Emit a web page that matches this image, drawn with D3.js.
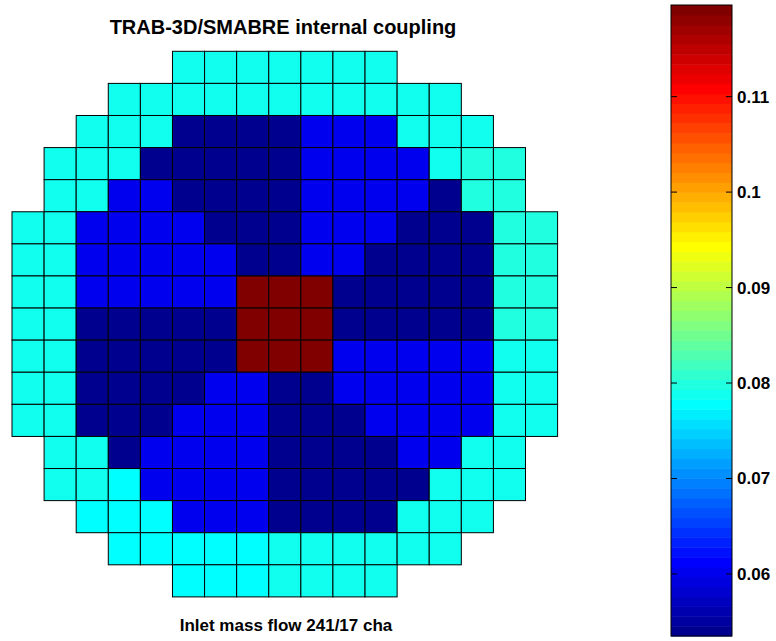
<!DOCTYPE html>
<html>
<head>
<meta charset="utf-8">
<script src="https://cdn.jsdelivr.net/npm/d3@7"></script>
<style>
  html, body { margin: 0; padding: 0; background: #fff; }
  svg { display: block; }
  text { font-family: "Liberation Sans", Arial, Helvetica, sans-serif; fill: #000; }
</style>
</head>
<body>
<svg id="chart" width="776" height="641"></svg>
<script>
// ---- data ----
const title = "TRAB-3D/SMABRE internal coupling";
const xLabel = "Inlet mass flow 241/17 cha";
const colorLimits = [0.0535, 0.1196];
const colorbarTicks = [0.06, 0.07, 0.08, 0.09, 0.1, 0.11];
const colorbarTickLabels = ["0.06", "0.07", "0.08", "0.09", "0.1", "0.11"];
const n = null;
const row0  = [n,n,n,n,n, .0787,.0789,.0790,.0791,.0790,.0789,.0787, n,n,n,n,n];
const row1  = [n,n,n, .0785,.0787,.0789,.0790,.0791,.0791,.0791,.0790,.0789,.0787,.0785, n,n,n];
const row2  = [n,n, .0786,.0788,.0790, .0540,.0541,.0542,.0543, .0601,.0602,.0600, .0789,.0787,.0785, n,n];
const row3  = [n, .0786,.0788,.0789, .0539,.0540,.0541,.0542,.0543, .0603,.0604,.0603,.0600, .0791, .0796,.0795, n];
const row4  = [n, .0787,.0789, .0599,.0601, .0538,.0539,.0541,.0543, .0604,.0605,.0604,.0601, .0544, .0797,.0796, n];
const row5  = [.0786,.0788, .0600,.0602,.0603,.0600, .0538,.0540,.0542, .0603,.0604,.0602, .0543,.0541,.0540, .0798,.0797];
const row6  = [.0787,.0789, .0601,.0603,.0604,.0602,.0598, .0539,.0541, .0600,.0599, .0542,.0540,.0539,.0538, .0799,.0798];
const row7  = [.0788,.0790, .0600,.0602,.0603,.0601,.0598, .1192,.1196,.1193, .0539,.0538,.0537,.0538,.0540, .0800,.0799];
const row8  = [.0788,.0790, .0542,.0541,.0540,.0539,.0538, .1194,.1195,.1191, .0537,.0536,.0535,.0537,.0539, .0799,.0798];
const row9  = [.0787,.0789, .0541,.0540,.0539,.0538,.0537, .1190,.1193,.1189, .0599,.0601,.0602,.0603,.0601, .0791,.0790];
const row10 = [.0786,.0788, .0540,.0539,.0538,.0537, .0600,.0599, .0538,.0539, .0600,.0602,.0603,.0604,.0602, .0790,.0789];
const row11 = [.0785,.0787, .0541,.0540,.0539, .0599,.0601,.0600, .0538,.0539,.0540, .0601,.0603,.0604,.0602, .0789,.0788];
const row12 = [n, .0786,.0788, .0543, .0600,.0602,.0603,.0601, .0539,.0540,.0541,.0542, .0602,.0600, .0789,.0787, n];
const row13 = [n, .0784,.0786, .0780, .0601,.0603,.0604,.0602, .0540,.0541,.0542,.0543,.0544, .0788,.0787,.0785, n];
const row14 = [n,n, .0778,.0779,.0781, .0602,.0604,.0603, .0541,.0542,.0543,.0544, .0786,.0787,.0785, n,n];
const row15 = [n,n,n, .0776,.0778,.0780,.0781,.0782, .0784,.0786,.0787,.0788,.0787,.0785, n,n,n];
const row16 = [n,n,n,n,n, .0777,.0779,.0781, .0784,.0786,.0786,.0784, n,n,n,n,n];
const rows = [row0,row1,row2,row3,row4,row5,row6,row7,row8,row9,row10,row11,row12,row13,row14,row15,row16];

// ---- jet(64) colormap (MATLAB style) ----
function jet64() {
  const u = [];
  for (let k = 1; k <= 16; k++) u.push(k / 16);
  for (let k = 0; k < 15; k++) u.push(1);
  for (let k = 16; k >= 1; k--) u.push(k / 16);
  const U = k => (k >= 1 && k <= u.length) ? u[k - 1] : 0;
  const cols = [];
  for (let i = 0; i < 64; i++) {
    const b = i <= 38 ? U(i + 9) : 0;
    const g = (i >= 8 && i <= 54) ? U(i - 7) : 0;
    const r = i >= 24 ? U(i - 23) : 0;
    cols.push(d3.rgb(Math.round(r * 255), Math.round(g * 255), Math.round(b * 255)).formatHex());
  }
  return cols;
}
const cmap = jet64();
const colorIndex = d3.scaleQuantize().domain(colorLimits).range(d3.range(64));
const color = v => cmap[colorIndex(Math.min(Math.max(v, colorLimits[0]), colorLimits[1]))];

// ---- draw ----
const svg = d3.select("#chart");
const N = rows.length;
const x = d3.scaleBand().domain(d3.range(N)).range([12, 557.6]).paddingInner(0).paddingOuter(0);
const y = d3.scaleBand().domain(d3.range(N)).range([51.3, 596.9]).paddingInner(0).paddingOuter(0);

const cells = [];
rows.forEach((r, i) => r.forEach((v, j) => { if (v !== null) cells.push({ i, j, v }); }));

svg.append("g").selectAll("rect").data(cells).join("rect")
  .attr("x", d => x(d.j))
  .attr("y", d => y(d.i))
  .attr("width", x.bandwidth())
  .attr("height", y.bandwidth())
  .attr("fill", d => color(d.v))
  .attr("stroke", "#000")
  .attr("stroke-width", 1);

svg.append("text")
  .attr("x", 283).attr("y", 34)
  .attr("text-anchor", "middle")
  .attr("font-size", 20).attr("font-weight", "bold")
  .text(title);

svg.append("text")
  .attr("x", 286).attr("y", 631)
  .attr("text-anchor", "middle")
  .attr("font-size", 17).attr("font-weight", "bold")
  .text(xLabel);

// ---- colorbar ----
const cbX0 = 671, cbX1 = 732, cbTop = 5, cbBottom = 636;
const cy = d3.scaleLinear().domain(colorLimits).range([cbBottom, cbTop]);
const step = (colorLimits[1] - colorLimits[0]) / 64;
const cb = svg.append("g");
cb.selectAll("rect.band").data(d3.range(64)).join("rect")
  .attr("class", "band")
  .attr("x", cbX0)
  .attr("width", cbX1 - cbX0)
  .attr("y", i => cy(colorLimits[0] + (i + 1) * step))
  .attr("height", i => cy(colorLimits[0] + i * step) - cy(colorLimits[0] + (i + 1) * step) + 0.5)
  .attr("fill", i => cmap[i]);
cb.append("rect")
  .attr("x", cbX0).attr("y", cbTop)
  .attr("width", cbX1 - cbX0).attr("height", cbBottom - cbTop)
  .attr("fill", "none").attr("stroke", "#000").attr("stroke-width", 1);

const axisR = d3.axisRight(cy).tickValues(colorbarTicks)
  .tickFormat((d, i) => colorbarTickLabels[i]).tickSize(0).tickPadding(5);
const ag = cb.append("g").attr("transform", `translate(${cbX1},0)`).call(axisR);
ag.select(".domain").remove();
ag.selectAll("text").attr("font-size", 17).attr("font-weight", "bold")
  .attr("font-family", '"Liberation Sans", Arial, Helvetica, sans-serif').attr("fill", "#000");

cb.selectAll("line.tl").data(colorbarTicks).join("line")
  .attr("class", "tl")
  .attr("x1", cbX0).attr("x2", cbX0 + 6)
  .attr("y1", d => cy(d)).attr("y2", d => cy(d))
  .attr("stroke", "#000").attr("stroke-width", 1);
cb.selectAll("line.tr").data(colorbarTicks).join("line")
  .attr("class", "tr")
  .attr("x1", cbX1 - 6).attr("x2", cbX1)
  .attr("y1", d => cy(d)).attr("y2", d => cy(d))
  .attr("stroke", "#000").attr("stroke-width", 1);
</script>
</body>
</html>
